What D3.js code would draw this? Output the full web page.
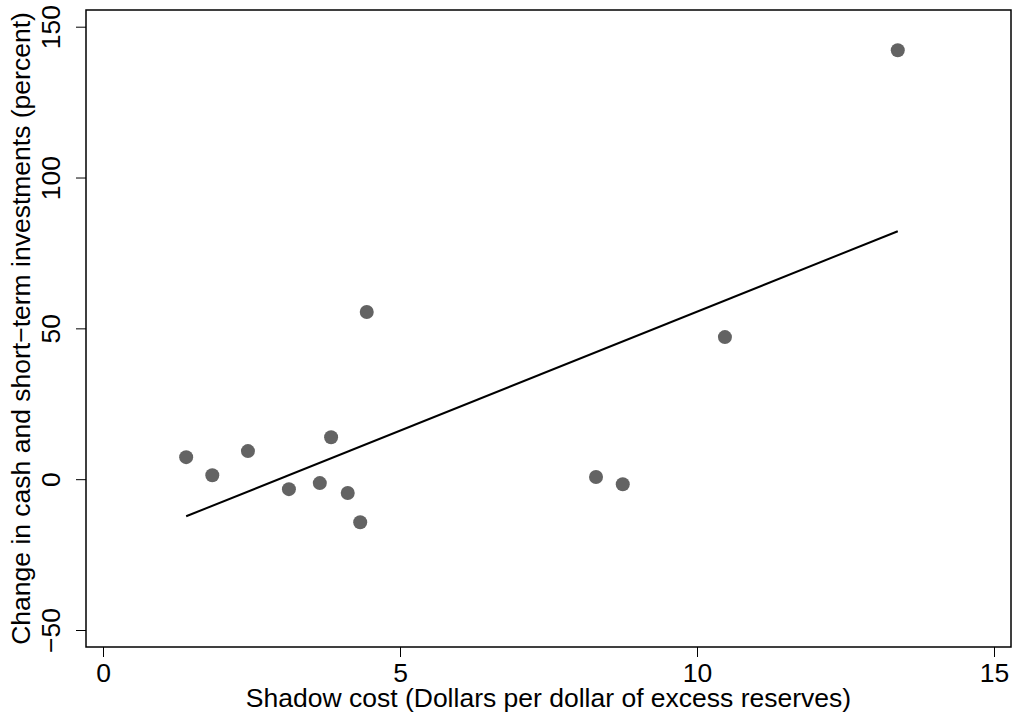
<!DOCTYPE html>
<html>
<head>
<meta charset="utf-8">
<script src="https://cdn.jsdelivr.net/npm/d3@7"></script>
<style>
  html, body { margin: 0; padding: 0; background: #fff; }
  svg text { font-family: "Liberation Sans", Arial, sans-serif; fill: #000; }
</style>
</head>
<body>
<svg id="chart" width="1013" height="719"></svg>
<script>
// Data
const shadowCost = [1.40, 1.84, 2.44, 3.13, 3.65, 3.84, 4.12, 4.33, 4.44, 8.30, 8.75, 10.47, 13.38];
const cashChange = [7.3, 1.3, 9.3, -3.3, -1.3, 13.9, -4.6, -14.3, 55.4, 0.7, -1.7, 47.1, 142.2];
const fitX = [1.40, 13.38];
const fitY = [-12.3, 82.2];
const xTicks = [0, 5, 10, 15];
const yTicks = [-50, 0, 50, 100, 150];
const xTitle = "Shadow cost (Dollars per dollar of excess reserves)";
const yTitle = "Change in cash and short\u2212term investments (percent)";

const svg = d3.select("#chart");
const box = { left: 86, right: 1011, top: 10, bottom: 647 };

const x = d3.scaleLinear().domain([0, 15]).range([103, 994]);
const y = d3.scaleLinear().domain([-50, 150]).range([630, 26.7]);

const fs = 26.5;
const fmt = d => d < 0 ? "\u2212" + Math.abs(d) : String(d);

// plot frame
svg.append("rect")
  .attr("x", box.left).attr("y", box.top)
  .attr("width", box.right - box.left).attr("height", box.bottom - box.top)
  .attr("fill", "none").attr("stroke", "#000").attr("stroke-width", 1.5);

// x axis
const xAxis = svg.append("g").attr("transform", `translate(0,${box.bottom})`)
  .call(d3.axisBottom(x).tickValues(xTicks).tickSize(10).tickFormat(fmt));
xAxis.select(".domain").remove();
xAxis.selectAll(".tick line").attr("stroke", "#000").attr("stroke-width", 1);
xAxis.selectAll(".tick text")
  .attr("font-size", fs).attr("font-family", "Liberation Sans, Arial, sans-serif")
  .attr("y", 35).attr("dy", null);

// y axis
const yAxis = svg.append("g").attr("transform", `translate(${box.left},0)`)
  .call(d3.axisLeft(y).tickValues(yTicks).tickSize(10).tickFormat(fmt));
yAxis.select(".domain").remove();
yAxis.selectAll(".tick line").attr("stroke", "#000").attr("stroke-width", 1);
yAxis.selectAll(".tick text")
  .attr("font-size", fs).attr("font-family", "Liberation Sans, Arial, sans-serif")
  .attr("x", null).attr("dy", null)
  .attr("text-anchor", "middle")
  .attr("transform", "translate(-26,0) rotate(-90)");

// axis titles
svg.append("text")
  .attr("x", (box.left + box.right) / 2).attr("y", 707)
  .attr("text-anchor", "middle").attr("font-size", fs)
  .text(xTitle);

svg.append("text")
  .attr("transform", `translate(30,${(box.top + box.bottom) / 2}) rotate(-90)`)
  .attr("text-anchor", "middle").attr("font-size", fs)
  .text(yTitle);

// fit line
svg.append("line")
  .attr("x1", x(fitX[0])).attr("y1", y(fitY[0]))
  .attr("x2", x(fitX[1])).attr("y2", y(fitY[1]))
  .attr("stroke", "#000").attr("stroke-width", 2);

// points
svg.append("g").selectAll("circle")
  .data(shadowCost.map((v, i) => [v, cashChange[i]]))
  .join("circle")
  .attr("cx", d => x(d[0])).attr("cy", d => y(d[1]))
  .attr("r", 7).attr("fill", "#636363");
</script>
</body>
</html>
